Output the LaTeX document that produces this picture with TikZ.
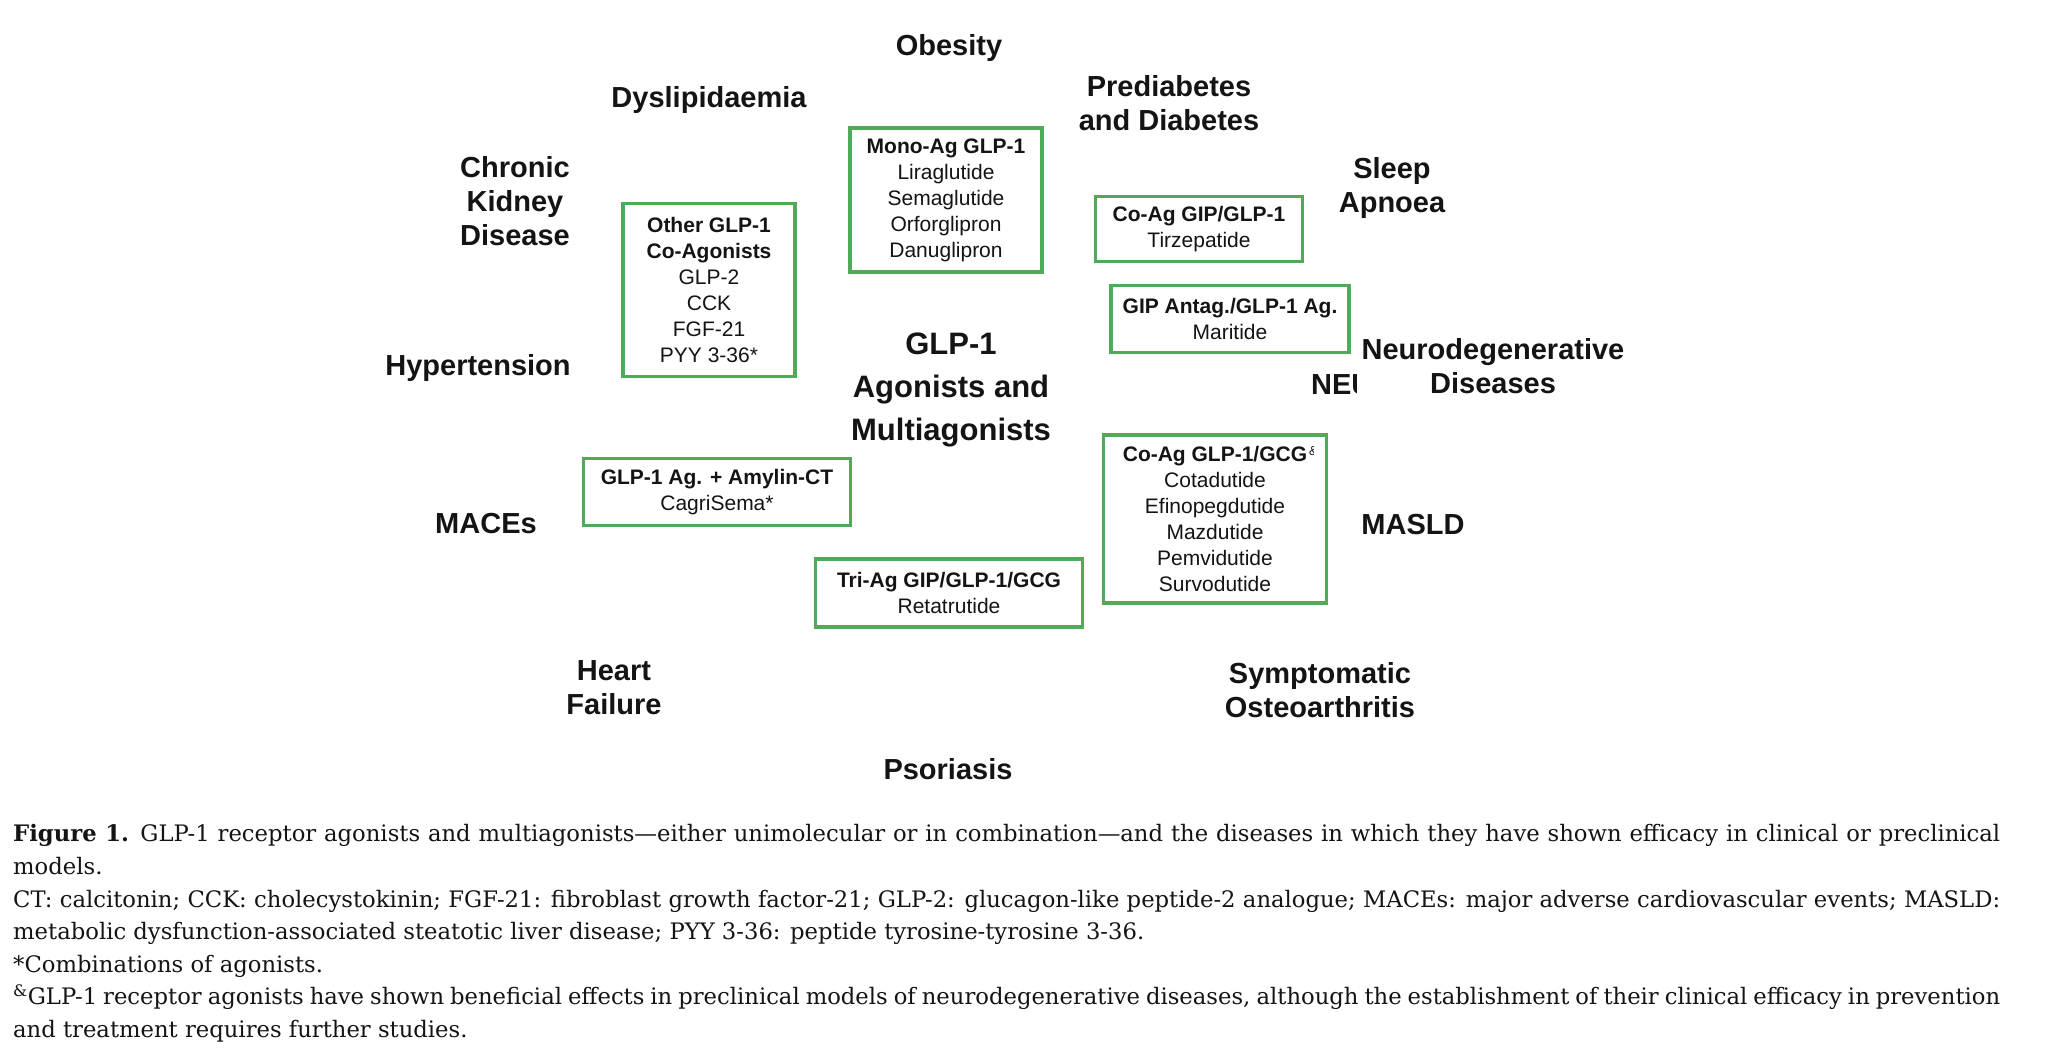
\documentclass[tikz,border=0pt]{standalone}
\usepackage{fontspec}
\setmainfont{DejaVu Serif}
\newfontfamily\capfont{DejaVu Serif}
\newfontfamily\dfont{Liberation Sans}
\definecolor{boxgreen}{RGB}{80,170,88}
\definecolor{txt}{RGB}{20,20,20}
\tikzset{
  drugbox/.style={draw=boxgreen, line width=3.5pt, inner sep=0pt, align=center,
    text=txt, font=\dfont\fontsize{21}{26}\selectfont},
  dislab/.style={align=center, text=txt, inner sep=0pt, font=\dfont\bfseries\fontsize{29}{34}\selectfont},
  caplabel/.style={anchor=base west, inner sep=0pt, text=txt, font=\capfont\fontsize{22.7}{30}\selectfont}
}
\begin{document}
\begin{tikzpicture}[x=1pt,y=-1pt]
\useasboundingbox[fill=white] (0,0) rectangle (2048,1054);
% drug boxes
\node[drugbox, minimum width=192pt, minimum height=144pt] (mono) at (946,200)
  {\textbf{Mono-Ag GLP-1}\\Liraglutide\\Semaglutide\\Orforglipron\\Danuglipron};
\node[drugbox, minimum width=172pt, minimum height=173pt] (other) at (709,290)
  {\textbf{Other GLP-1}\\\textbf{Co-Agonists}\\GLP-2\\CCK\\FGF-21\\PYY 3-36*};
\node[drugbox, minimum width=207pt, minimum height=65pt] (cogip) at (1199,229)
  {\textbf{Co-Ag GIP/GLP-1}\\Tirzepatide};
\node[drugbox, minimum width=238pt, minimum height=67pt] (gipant) at (1230,319)
  {\textbf{GIP Antag./GLP-1 Ag.}\\Maritide};
\node[drugbox, minimum width=267pt, minimum height=67pt] (amylin) at (717,492)
  {\textbf{GLP-1 Ag. + Amylin-CT}\\CagriSema*};
\node[drugbox, minimum width=223pt, minimum height=168pt] (coglp) at (1215,519)
  {\textbf{Co-Ag GLP-1/GCG}\\Cotadutide\\Efinopegdutide\\Mazdutide\\Pemvidutide\\Survodutide};
\node[drugbox, minimum width=267pt, minimum height=68pt] (tri) at (949,593)
  {\textbf{Tri-Ag GIP/GLP-1/GCG}\\Retatrutide};
\begin{scope}
  \clip (1308,436) rectangle (1313,466);
  \node[anchor=west, inner sep=0pt, text=txt, font=\dfont\fontsize{13}{13}\selectfont] (amp) at (1309,451) {\&};
\end{scope}
% disease labels
\node[dislab] (obesity) at (949,48) {Obesity};
\node[dislab] (dysl) at (709,100) {Dyslipidaemia};
\node[dislab] (prediab) at (1169,103) {Prediabetes\\and Diabetes};
\node[dislab] (ckd) at (515,201) {Chronic\\Kidney\\Disease};
\node[dislab] (sleep) at (1392,188) {Sleep\\Apnoea};
\node[dislab] (hyper) at (478,368) {Hypertension};
\node[dislab, font=\dfont\bfseries\fontsize{31}{43}\selectfont] (center) at (951,390)
  {GLP-1\\Agonists and\\Multiagonists};
\node[dislab] (neuro) at (1493,366) {Neurodegenerative\\Diseases};
\begin{scope}
  \clip (1300,360) rectangle (1356,410);
  \node[dislab, anchor=west] (neu) at (1311,385) {NEU};
\end{scope}
\node[dislab] (maces) at (486,524) {MACEs};
\node[dislab] (masld) at (1413,525) {MASLD};
\node[dislab] (heart) at (614,688) {Heart\\Failure};
\node[dislab] (osteo) at (1320,690) {Symptomatic\\Osteoarthritis};
\node[dislab] (psor) at (948,769) {Psoriasis};
% caption
\node[caplabel] (cap1) at (13,841) {\makebox[1987pt][s]{\textbf{Figure 1.}\enspace GLP-1 receptor agonists and multiagonists—either unimolecular or in combination—and the diseases in which they have shown efficacy in clinical or preclinical}};
\node[caplabel] (cap2) at (13,874) {models.};
\node[caplabel] (cap3) at (13,907) {\makebox[1987pt][s]{CT: calcitonin; CCK: cholecystokinin; FGF-21: fibroblast growth factor-21; GLP-2: glucagon-like peptide-2 analogue; MACEs: major adverse cardiovascular events; MASLD:}};
\node[caplabel] (cap4) at (13,939) {metabolic dysfunction-associated steatotic liver disease; PYY 3-36: peptide tyrosine-tyrosine 3-36.};
\node[caplabel] (cap5) at (13,972) {*Combinations of agonists.};
\node[caplabel] (cap6) at (13,1004) {\makebox[1987pt][s]{\textsuperscript{\&}GLP-1 receptor agonists have shown beneficial effects in preclinical models of neurodegenerative diseases, although the establishment of their clinical efficacy in prevention}};
\node[caplabel] (cap7) at (13,1037) {and treatment requires further studies.};
\end{tikzpicture}
\end{document}
